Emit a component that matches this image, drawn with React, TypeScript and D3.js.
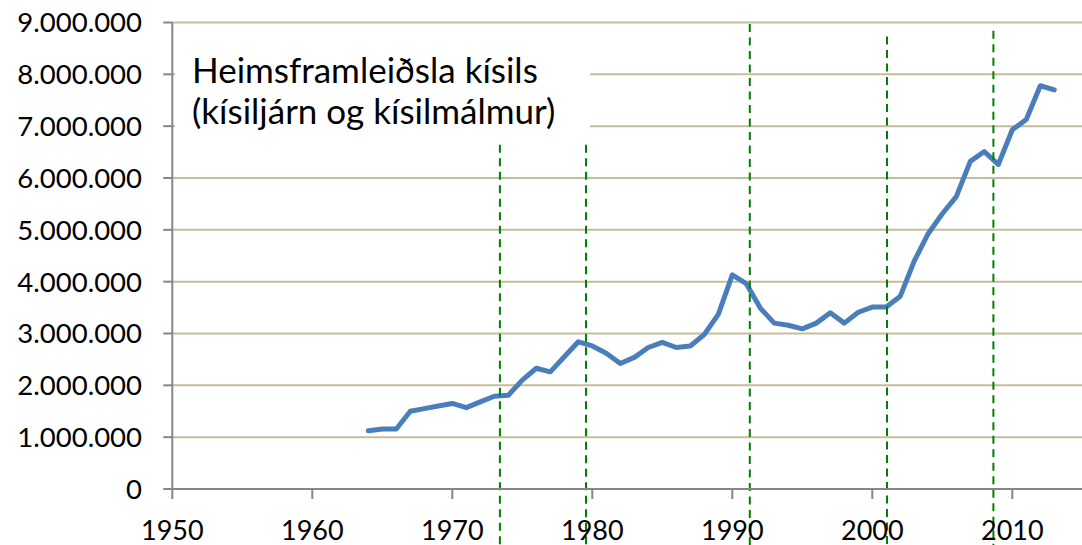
import React from "react";
import * as d3 from "d3";

const years = [1964,1965,1966,1967,1968,1969,1970,1971,1972,1973,1974,1975,1976,1977,1978,1979,1980,1981,1982,1983,1984,1985,1986,1987,1988,1989,1990,1991,1992,1993,1994,1995,1996,1997,1998,1999,2000,2001,2002,2003,2004,2005,2006,2007,2008,2009,2010,2011,2012,2013];
const production = [1125000,1158000,1158000,1500000,1550000,1600000,1650000,1570000,1680000,1790000,1810000,2100000,2330000,2260000,2550000,2840000,2760000,2620000,2420000,2540000,2730000,2830000,2730000,2760000,2980000,3370000,4130000,3960000,3490000,3200000,3160000,3090000,3200000,3400000,3200000,3410000,3510000,3510000,3720000,4400000,4930000,5310000,5640000,6320000,6510000,6260000,6930000,7130000,7780000,7700000];

const xTicks = [1950,1960,1970,1980,1990,2000,2010];
const yTicks = [0,1000000,2000000,3000000,4000000,5000000,6000000,7000000,8000000,9000000];
const markerYears = [1973.4, 1979.55, 1991.25, 2001.05, 2008.65];
const markerTops = [6640000, 6640000, 8970000, 8730000, 8840000];
const titleLines = ["Heimsframleiðsla kísils", "(kísiljárn og kísilmálmur)"];

const W = 1082, H = 545;
const FONT = "Lato, 'Open Sans', sans-serif";

function fmt(v: number) {
  return v === 0 ? "0" : d3.format(",")(v).replace(/,/g, ".");
}

export default function App() {
  const x = d3.scaleLinear().domain([1950, 2015]).range([172.3, 1082.3]);
  const y = d3.scaleLinear().domain([0, 9000000]).range([489, 22.5]);
  const line = d3.line<number>().x((_, i) => x(years[i])).y((d) => y(d));
  const x0 = x(1950);
  const y0 = y(0);
  return (
    <svg width={W} height={H} style={{ position: "absolute", left: 0, top: 0, background: "#fff" }}>
      <rect width={W} height={H} fill="#fff" />
      {yTicks.filter((t) => t > 0).map((t) => (
        <line key={t} x1={x0} x2={W} y1={y(t)} y2={y(t)} stroke="#c4bd97" strokeWidth={2} />
      ))}
      <path d={line(production) || ""} fill="none" stroke="#4a7ebb" strokeWidth={5} strokeLinejoin="round" strokeLinecap="round" />
      {markerYears.map((m, i) => (
        <line key={m} x1={x(m)} x2={x(m)} y1={y(markerTops[i])} y2={H} stroke="#008000" strokeWidth={2} strokeDasharray="8,5.5" />
      ))}
      <rect x={175} y={34} width={415} height={110} fill="#fff" />
      <text fontFamily={FONT} fontSize={35} fill="#000">
        {titleLines.map((t, i) => (
          <tspan key={i} x={192} y={83 + i * 41}>{t}</tspan>
        ))}
      </text>
      <line x1={x0} x2={x0} y1={y(9000000)} y2={y0} stroke="#868686" strokeWidth={2} />
      <line x1={x0} x2={W} y1={y0} y2={y0} stroke="#868686" strokeWidth={2} />
      {yTicks.map((t) => (
        <g key={t}>
          <line x1={x0 - 9} x2={x0} y1={y(t)} y2={y(t)} stroke="#868686" strokeWidth={2} />
          <text x={142} y={y(t)} dy="0.36em" textAnchor="end" fontFamily={FONT} fontSize={27.5} fill="#000">{fmt(t)}</text>
        </g>
      ))}
      {xTicks.map((t) => (
        <g key={t}>
          <line x1={x(t)} x2={x(t)} y1={y0} y2={y0 + 10} stroke="#868686" strokeWidth={2} />
          <text x={x(t)} y={540} textAnchor="middle" fontFamily={FONT} fontSize={27} fill="#000">{t}</text>
        </g>
      ))}
    </svg>
  );
}
